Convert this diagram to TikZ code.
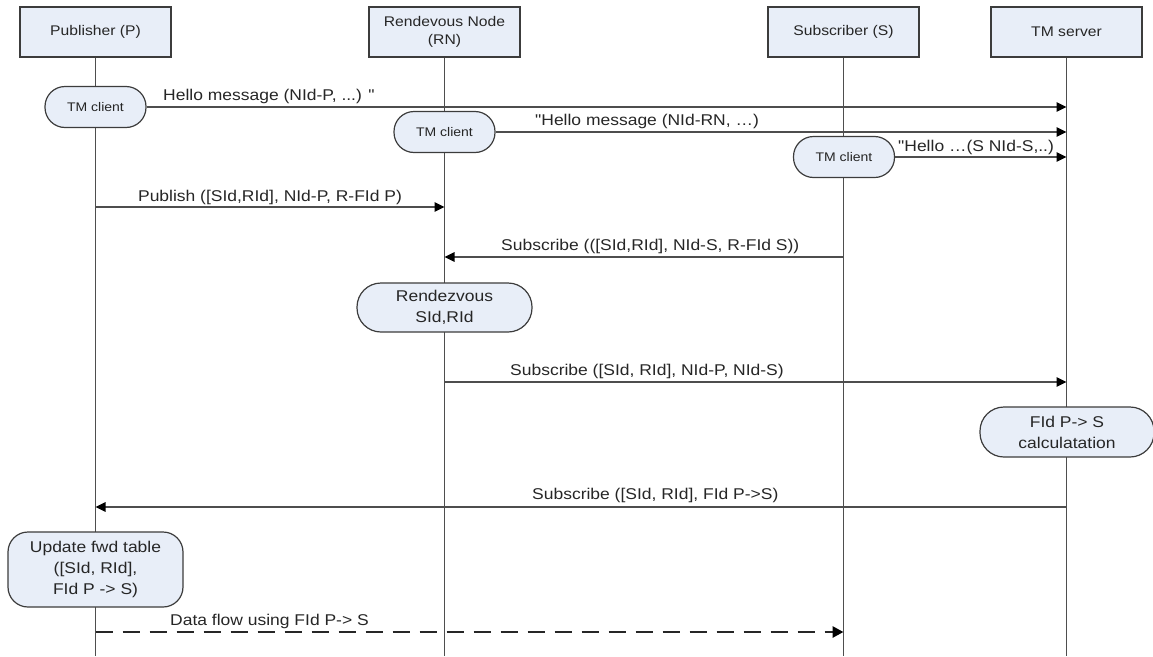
\documentclass[tikz,border=0pt]{standalone}
\usepackage{fontspec}
\setmainfont[FakeStretch=1.12, Ligatures=TeXOff]{Liberation Sans}
\usetikzlibrary{arrows.meta}

\definecolor{boxfill}{RGB}{232,238,248}
\definecolor{linegray}{RGB}{78,78,78}
\definecolor{edgegray}{RGB}{60,60,60}
\definecolor{textcol}{RGB}{38,38,38}

\tikzset{
  actor/.style={draw=edgegray, fill=boxfill, line width=1.2pt,
    minimum width=151pt, minimum height=50pt, inner sep=0pt, align=center,
    text=textcol, font=\fontsize{14}{18}\selectfont},
  pill/.style={draw=edgegray, fill=boxfill, line width=1.2pt,
    inner sep=0pt, align=center, text=textcol,
    font=\fontsize{15.6}{21}\selectfont},
  tmpill/.style={pill, minimum width=101pt, minimum height=41pt,
    rounded corners=20pt, font=\fontsize{12.5}{15}\selectfont},
  life/.style={draw=linegray, line width=1.3pt},
  msg/.style={draw=linegray, line width=1.3pt,
    -{Triangle[length=10pt,width=9.5pt,color=black]}},
  dataflow/.style={draw=black!85, line width=2.8pt,
    dash pattern=on 17pt off 10pt,
    -{Triangle[length=11pt,width=11pt,color=black]}},
  lbl/.style={inner sep=0pt, anchor=base west, text=textcol,
    font=\fontsize{15.6}{18}\selectfont},
}

\begin{document}
\begin{tikzpicture}[x=1pt, y=-1pt]
\useasboundingbox (0,0) rectangle (1153,656);

% participants
\node[actor] (P)  at (95.5,32)   {Publisher (P)};
\node[actor] (RN) at (444.5,32)  {Rendevous Node\\(RN)};
\node[actor] (S)  at (843.5,32)  {Subscriber (S)};
\node[actor] (TM) at (1066.5,32) {TM server};

% lifelines
\coordinate (Pend)  at (95.5,656);
\coordinate (RNend) at (444.5,656);
\coordinate (Send)  at (843.5,656);
\coordinate (TMend) at (1066.5,656);
\draw[life] (P.south)  -- (Pend);
\draw[life] (RN.south) -- (RNend);
\draw[life] (S.south)  -- (Send);
\draw[life] (TM.south) -- (TMend);

% activities on the lifelines
\node[tmpill] (cP)  at (95.5,107)  {TM client};
\node[tmpill] (cRN) at (444.5,132) {TM client};
\node[tmpill] (cS)  at (844,157)   {TM client};
\node[pill, minimum width=175pt, minimum height=49pt, rounded corners=24pt]
  (rdv) at (444.5,307.5) {Rendezvous\\SId,RId};
\node[pill, minimum width=174pt, minimum height=50pt, rounded corners=24pt]
  (calc) at (1067,432) {FId P-> S\\calculatation};
\node[pill, minimum width=175pt, minimum height=75pt, rounded corners=20pt]
  (upd) at (95.5,569.5) {Update fwd table\\([SId, RId],\\FId P -> S)};

% hello messages to the TM server
\draw[msg] (cP.east)  -- (cP.east -| TM.south);
\draw[msg] (cRN.east) -- (cRN.east -| TM.south);
\draw[msg] (cS.east)  -- (cS.east -| TM.south);
\node[lbl] (hP)  at (163,100) {Hello message (NId-P, ...) "};
\node[lbl] (hRN) at (535,125) {"Hello message (NId-RN, …)};
\node[lbl] (hS)  at (898,151) {"Hello …(S NId-S,..)};

% publish / subscribe
\draw[msg] (P.south |- 0,207) -- (RN.south |- 0,207);
\node[lbl, anchor=base] (mPub) at (270,201) {Publish ([SId,RId], NId-P, R-FId P)};

\draw[msg] (S.south |- 0,257) -- (RN.south |- 0,257);
\node[lbl] (mSub1) at (501,250) {Subscribe (([SId,RId], NId-S, R-FId S))};

\draw[msg] (RN.south |- 0,382) -- (TM.south |- 0,382);
\node[lbl] (mSub2) at (510,375) {Subscribe ([SId, RId], NId-P, NId-S)};

\draw[msg] (TM.south |- 0,507) -- (P.south |- 0,507);
\node[lbl] (mSub3) at (532,499) {Subscribe ([SId, RId], FId P->S)};

% data path
\draw[dataflow] (P.south |- 0,632) -- (S.south |- 0,632);
\node[lbl] (mData) at (170,625) {Data flow using FId P-> S};
\end{tikzpicture}
\end{document}
